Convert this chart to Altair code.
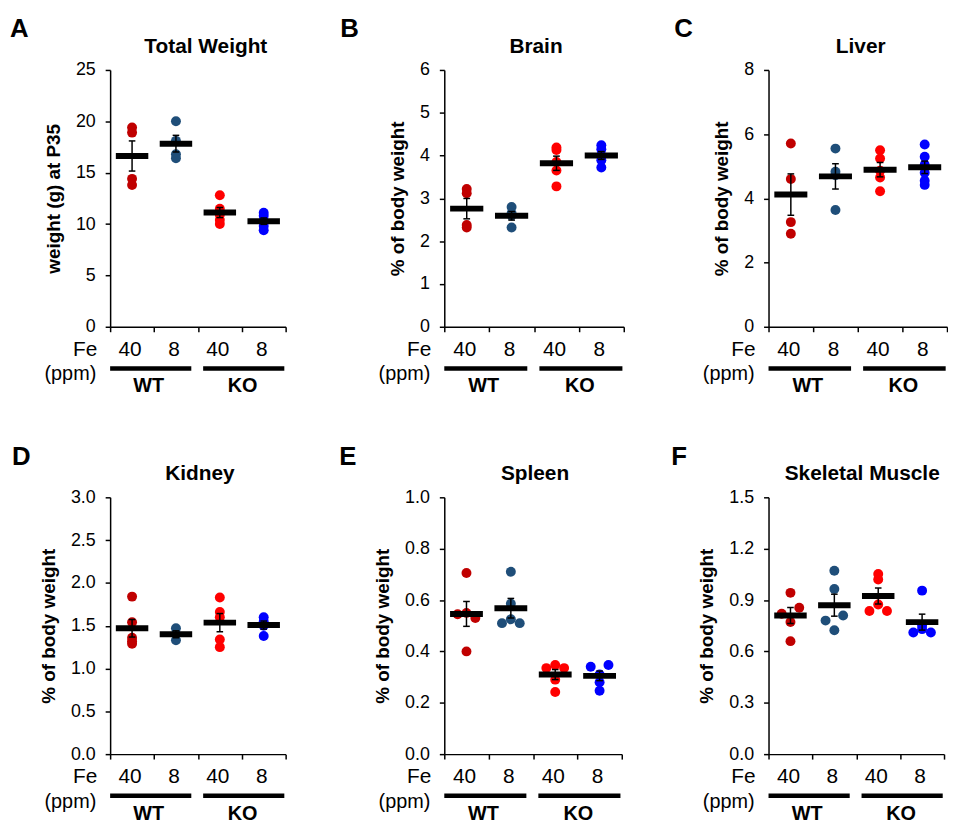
import altair as alt
import pandas as pd
import numpy as np

# ---------------- data ----------------
groups = ["WT40", "WT8", "KO40", "KO8"]
group_colors = ["#C00000", "#1F4E79", "#FF0000", "#0000FF"]
fe_labels = ["40", "8", "40", "8"]
genotypes = ["WT", "KO"]

panel_letters = ["A", "B", "C", "D", "E", "F"]
panel_titles = ["Total Weight", "Brain", "Liver", "Kidney", "Spleen", "Skeletal Muscle"]
y_titles = ["weight (g) at P35", "% of body weight", "% of body weight",
            "% of body weight", "% of body weight", "% of body weight"]
y_max = [25, 6, 8, 3.0, 1.0, 1.5]
y_step = [5, 1, 2, 0.5, 0.2, 0.3]
y_format = ["d", "d", "d", ".1f", ".1f", ".1f"]

# values per group: WT 40ppm, WT 8ppm, KO 40ppm, KO 8ppm
total_weight = [[19.4, 18.9, 14.4, 13.8],
                [20.0, 18.1, 16.8, 16.4],
                [12.8, 11.5, 10.9, 10.4, 10.0],
                [11.1, 10.8, 10.3, 9.8, 9.4]]
brain = [[3.22, 3.12, 2.38, 2.32],
         [2.80, 2.65, 2.60, 2.32],
         [4.19, 4.13, 3.85, 3.65, 3.28],
         [4.24, 4.15, 4.01, 3.89, 3.72]]
liver = [[5.71, 4.60, 3.26, 2.90],
         [5.55, 4.83, 4.72, 3.64],
         [5.50, 5.24, 4.86, 4.65, 4.22],
         [5.68, 5.30, 5.05, 4.80, 4.55, 4.42]]
kidney = [[1.84, 1.54, 1.36, 1.32, 1.29],
          [1.47, 1.40, 1.33],
          [1.83, 1.66, 1.60, 1.34, 1.25],
          [1.60, 1.55, 1.50, 1.38]]
spleen = [[0.705, 0.55, 0.545, 0.53, 0.40],
          [0.71, 0.586, 0.525, 0.51, 0.51],
          [0.347, 0.335, 0.335, 0.29, 0.242],
          [0.347, 0.34, 0.31, 0.28, 0.247]]
muscle = [[0.942, 0.855, 0.82, 0.772, 0.66],
          [1.071, 0.965, 0.81, 0.78, 0.724],
          [1.052, 1.02, 0.874, 0.836, 0.836],
          [0.955, 0.75, 0.73, 0.71, 0.71]]

# side-by-side slot of each dot (-1 left, 0 centre, 1 right)
spleen_slots = [[0, 0, -1, 1, 0],
                [0, 0, 0, -1, 1],
                [0, -1, 1, 0, 0],
                [1, -1, 0, 0, 0]]
muscle_slots = [[0, 1, -1, 0, 0],
                [0, 0, 1, -1, 0],
                [0, 0, 0, -1, 1],
                [0, 0, 0, -1, 1]]

panel_values = [total_weight, brain, liver, kidney, spleen, muscle]
panel_slots = [None, None, None, None, spleen_slots, muscle_slots]

# ---------------- layout / style ----------------
FONT = "Liberation Sans"
H = 259
group_widths = [188, 178, 178]
x_ranges = [177, 181, 180, 177, 179, 177]
letter_dx = [-101, -105, -95, -99, -106, -98]
title_dx = [8, 2, 3, 2, 2, 6]
JIT = 0.2
BAR_HALF = 0.37
CAP_HALF = 0.075


def panel(i):
    vals = panel_values[i]
    slots = panel_slots[i]
    xr = x_ranges[i]
    W = group_widths[i % 3]

    rows = []
    for g, vs in enumerate(vals):
        ss = slots[g] if slots is not None else [0] * len(vs)
        for v, s in zip(vs, ss):
            rows.append({"group": groups[g], "pos": g + 0.5 + s * JIT, "value": v})
    pts = pd.DataFrame(rows)

    st = pts.groupby("group", sort=False)["value"].agg(["mean", "std", "count"]).reset_index()
    st["sem"] = st["std"] / np.sqrt(st["count"])
    st["c"] = [groups.index(g) + 0.5 for g in st["group"]]
    st["lo"] = st["mean"] - st["sem"]
    st["hi"] = st["mean"] + st["sem"]
    st["bl"] = st["c"] - BAR_HALF
    st["br"] = st["c"] + BAR_HALF
    st["cl"] = st["c"] - CAP_HALF
    st["cr"] = st["c"] + CAP_HALF

    n = int(round(y_max[i] / y_step[i]))
    ticks = [round(k * y_step[i], 4) for k in range(n + 1)]

    xs = alt.Scale(domain=[0, 4], range=[0, xr], nice=False, zero=False)
    ys = alt.Scale(domain=[0, y_max[i]], nice=False, zero=True)
    xaxis = alt.Axis(values=[0, 1, 2, 3, 4], labels=False, title=None, grid=False,
                     tickSize=5, tickWidth=1.5, tickColor="black",
                     domainWidth=1.5, domainColor="black")
    yaxis = alt.Axis(values=ticks, format=y_format[i], title=y_titles[i], grid=False,
                     tickSize=5, tickWidth=1.5, tickColor="black",
                     domainWidth=1.5, domainColor="black",
                     labelFont=FONT, labelFontSize=18, labelColor="black", labelPadding=10,
                     titleFont=FONT, titleFontSize=19, titleFontWeight="bold",
                     titleColor="black", titlePadding=12)

    def X(f):
        return alt.X(f"{f}:Q", scale=xs, axis=xaxis)

    def Y(f):
        return alt.Y(f"{f}:Q", scale=ys, axis=yaxis)

    points = alt.Chart(pts).mark_circle(size=100, opacity=1).encode(
        x=X("pos"), y=Y("value"),
        color=alt.Color("group:N", scale=alt.Scale(domain=groups, range=group_colors), legend=None),
    )
    mean_bar = alt.Chart(st).mark_rule(color="black", strokeWidth=6).encode(
        x=X("bl"), x2="br", y=Y("mean"))
    err = alt.Chart(st).mark_rule(color="black", strokeWidth=1.5).encode(
        x=X("c"), y=Y("lo"), y2="hi")
    cap_lo = alt.Chart(st).mark_rule(color="black", strokeWidth=1.5).encode(
        x=X("cl"), x2="cr", y=Y("lo"))
    cap_hi = alt.Chart(st).mark_rule(color="black", strokeWidth=1.5).encode(
        x=X("cl"), x2="cr", y=Y("hi"))

    fe_df = pd.DataFrame({"pos": [0.5, 1.5, 2.5, 3.5], "label": fe_labels})
    fe_text = alt.Chart(fe_df).mark_text(font=FONT, fontSize=21, color="black",
                                         baseline="alphabetic", dx=-2).encode(
        x=X("pos"), y=alt.value(H + 29), text="label:N")

    geno_df = pd.DataFrame({"label": genotypes, "x1": [0.0, 2.12], "x2": [1.85, 3.97],
                            "xc": [0.88, 3.02]})
    geno_bar = alt.Chart(geno_df).mark_rule(color="black", strokeWidth=4.5).encode(
        x=X("x1"), x2="x2", y=alt.value(H + 42))
    geno_text = alt.Chart(geno_df).mark_text(font=FONT, fontSize=20, fontWeight="bold",
                                             color="black", baseline="alphabetic").encode(
        x=X("xc"), y=alt.value(H + 66), text="label:N")

    side_df = pd.DataFrame({"t": ["Fe", "(ppm)"]})
    fe_word = alt.Chart(side_df.iloc[[0]]).mark_text(font=FONT, fontSize=21, color="black",
                                                     align="right", baseline="alphabetic").encode(
        x=alt.value(-13), y=alt.value(H + 29), text="t:N")
    ppm_word = alt.Chart(side_df.iloc[[1]]).mark_text(font=FONT, fontSize=20, color="black",
                                                      align="right", baseline="alphabetic").encode(
        x=alt.value(-14), y=alt.value(H + 54), text="t:N")

    title = alt.Chart(pd.DataFrame({"t": [panel_titles[i]]})).mark_text(
        font=FONT, fontSize=21, fontWeight="bold", color="black",
        align="center", baseline="alphabetic").encode(
        x=alt.value(xr / 2 + title_dx[i]), y=alt.value(-17), text="t:N")
    letter = alt.Chart(pd.DataFrame({"t": [panel_letters[i]]})).mark_text(
        font=FONT, fontSize=26, fontWeight="bold", color="black",
        align="left", baseline="alphabetic").encode(
        x=alt.value(letter_dx[i]), y=alt.value(-33), text="t:N")

    return alt.layer(points, mean_bar, err, cap_lo, cap_hi, fe_text, geno_bar, geno_text,
                     fe_word, ppm_word, title, letter).properties(width=W, height=H)


charts = [panel(i) for i in range(6)]
chart = alt.concat(*charts, columns=3, spacing={"row": 172, "column": 149},
                   bounds="flush", align="each").properties(
    padding={"left": 2, "top": 5, "right": 0, "bottom": 0}
).configure_view(stroke=None)

chart.save("out.html", embed_options={"renderer": "svg", "actions": False})
